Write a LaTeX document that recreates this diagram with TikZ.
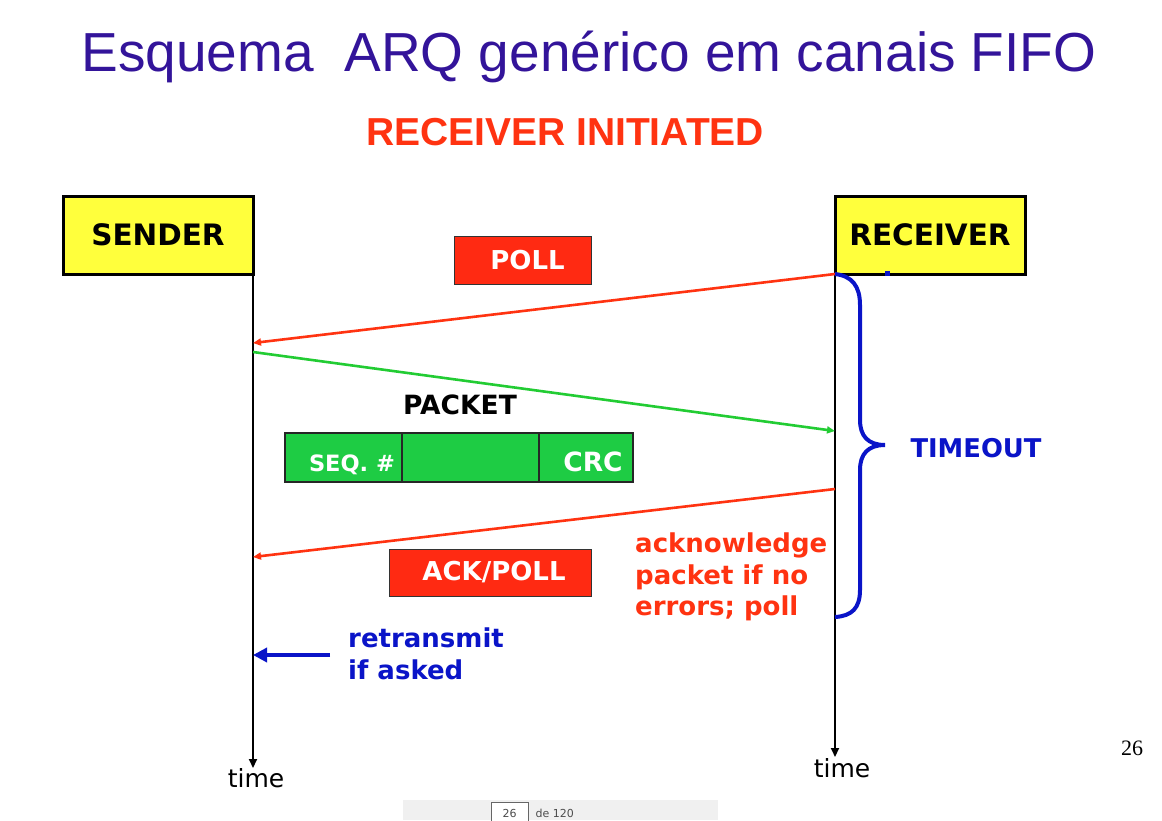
\documentclass[tikz,border=0pt]{standalone}
\usepackage{fontspec}
\setmainfont{DejaVu Sans}
\newfontfamily\arialfont{Liberation Sans}
\newfontfamily\timesfont{Liberation Serif}
\usetikzlibrary{arrows.meta}
\definecolor{titlepurple}{HTML}{33149A}
\definecolor{hdrred}{HTML}{FF3311}
\definecolor{boxred}{HTML}{FF2A12}
\definecolor{boxyellow}{HTML}{FFFF3C}
\definecolor{pktgreen}{HTML}{1ECC44}
\definecolor{linegreen}{HTML}{22CC33}
\definecolor{deepblue}{HTML}{0A14C8}
\definecolor{bargray}{HTML}{F0F0F0}
\newcommand{\fsz}[1]{\fontsize{#1}{1.2\dimexpr#1pt\relax}\selectfont}
\tikzset{
  party/.style={draw=black, line width=3pt, fill=boxyellow, minimum width=190pt, minimum height=78pt, font=\bfseries\fsz{29.5}},
  msgbox/.style={draw=black!80, line width=1pt, fill=boxred, text=white, font=\bfseries\fsz{26}, inner sep=0pt},
  pktcell/.style={draw=black!85, line width=1.5pt, fill=pktgreen, minimum height=49pt, inner sep=0pt},
  timeline/.style={draw=black, line width=2pt, -{Triangle[length=9pt,width=8pt]}},
  redmsg/.style={draw=hdrred, line width=2.6pt, -{Triangle[length=8pt,width=7pt]}},
  greenmsg/.style={draw=linegreen, line width=2.6pt, -{Triangle[length=8pt,width=7pt]}},
  note/.style={font=\bfseries\fsz{26}, align=left, inner sep=0pt},
}
\begin{document}
\begin{tikzpicture}[x=1pt,y=-1pt]
\useasboundingbox[fill=white] (0,0) rectangle (1162,820);

% headings
\node[font=\arialfont\fsz{55}, text=titlepurple, anchor=base] (title) at (589,71) {Esquema\ \ ARQ genérico em canais FIFO};
\node[font=\arialfont\bfseries\fsz{39}, text=hdrred, anchor=base] (mode) at (565,145) {RECEIVER INITIATED};

% the two parties
\node[party] (snd) at (158,235) {\raisebox{-4pt}{SENDER}};
\node[party] (rcv) at (930,235) {\raisebox{-4pt}{RECEIVER}};

% time axes
\coordinate (sTop) at (253,274);
\coordinate (sEnd) at (253,768);
\coordinate (rTop) at (835,274);
\coordinate (rEnd) at (835,757);
\draw[timeline] (sTop) -- (sEnd);
\draw[timeline] (rTop) -- (rEnd);
\node[font=\fsz{25}, anchor=north] (sTime) at (256,765) {time};
\node[font=\fsz{25}, anchor=north] (rTime) at (842,755) {time};

% poll
\node[msgbox, minimum width=137pt, minimum height=48pt] (poll) at (522.5,260) {\raisebox{-4pt}{\hspace{10pt}POLL}};
\coordinate (pollEnd) at (253,343);
\draw[redmsg] (rTop) -- (pollEnd);

% packet
\coordinate (pktStart) at (253,352);
\coordinate (pktEnd) at (835,431);
\draw[greenmsg] (pktStart) -- (pktEnd);
\node[font=\bfseries\fsz{26.5}] (pktlbl) at (460,405) {PACKET};
\node[pktcell, minimum width=117pt] (seq) at (343.5,457.5) {};
\node[pktcell, minimum width=137pt] (data) at (470.5,457.5) {};
\node[pktcell, minimum width=94pt] (crc) at (586,457.5) {};
\node[font=\bfseries\fsz{22.5}, text=white] (seqtxt) at (352,465) {SEQ. \#};
\node[font=\bfseries\fsz{26.5}, text=white] (crctxt) at (593,462) {CRC};

% ack / poll
\coordinate (ackStart) at (835,489);
\coordinate (ackEnd) at (253,557);
\draw[redmsg] (ackStart) -- (ackEnd);
\node[msgbox, minimum width=202pt, minimum height=47pt] (ack) at (490,572.5) {\raisebox{-4pt}{\hspace{8pt}ACK/POLL}};
\node[note, text=hdrred, anchor=north west] (acktxt) at (635,533) {acknowledge\\[0pt]packet if no\\[0pt]errors; poll};

% timeout brace
\coordinate (brTop) at (835,274);
\coordinate (brBot) at (835,617);
\draw[deepblue, line width=4pt]
  (brTop) .. controls (852,276) and (860,286) .. (860,305)
  -- (860,420)
  .. controls (860,436) and (868,445) .. (885,445)
  .. controls (868,445) and (860,454) .. (860,470)
  -- (860,590)
  .. controls (860,608) and (852,616) .. (brBot);
\fill[deepblue] (884.5,270.5) rectangle (889.5,275.5);
\node[font=\bfseries\fsz{25.8}, text=deepblue, anchor=west] (tmo) at (907,448) {TIMEOUT};

% retransmission
\coordinate (rtxStart) at (330,655);
\coordinate (rtxEnd) at (253,655);
\draw[deepblue, line width=4pt, -{Triangle[length=14pt,width=14pt]}] (rtxStart) -- (rtxEnd);
\node[note, text=deepblue, anchor=north west] (rtxtxt) at (348,628) {retransmit\\[0pt]if asked};

% page number
\node[font=\timesfont\fsz{22}] (pnum) at (1132,748) {26};

% viewer toolbar strip
\fill[bargray] (403,800) rectangle (718,820);
\draw[black!60, fill=white, line width=0.6pt] (491,802) rectangle (528,822);
\node[font=\fsz{11}, text=black!70] (pg) at (509.5,813) {26};
\node[font=\fsz{11}, text=black!70, anchor=west] (pgof) at (532,813) {de 120};
\end{tikzpicture}
\end{document}
